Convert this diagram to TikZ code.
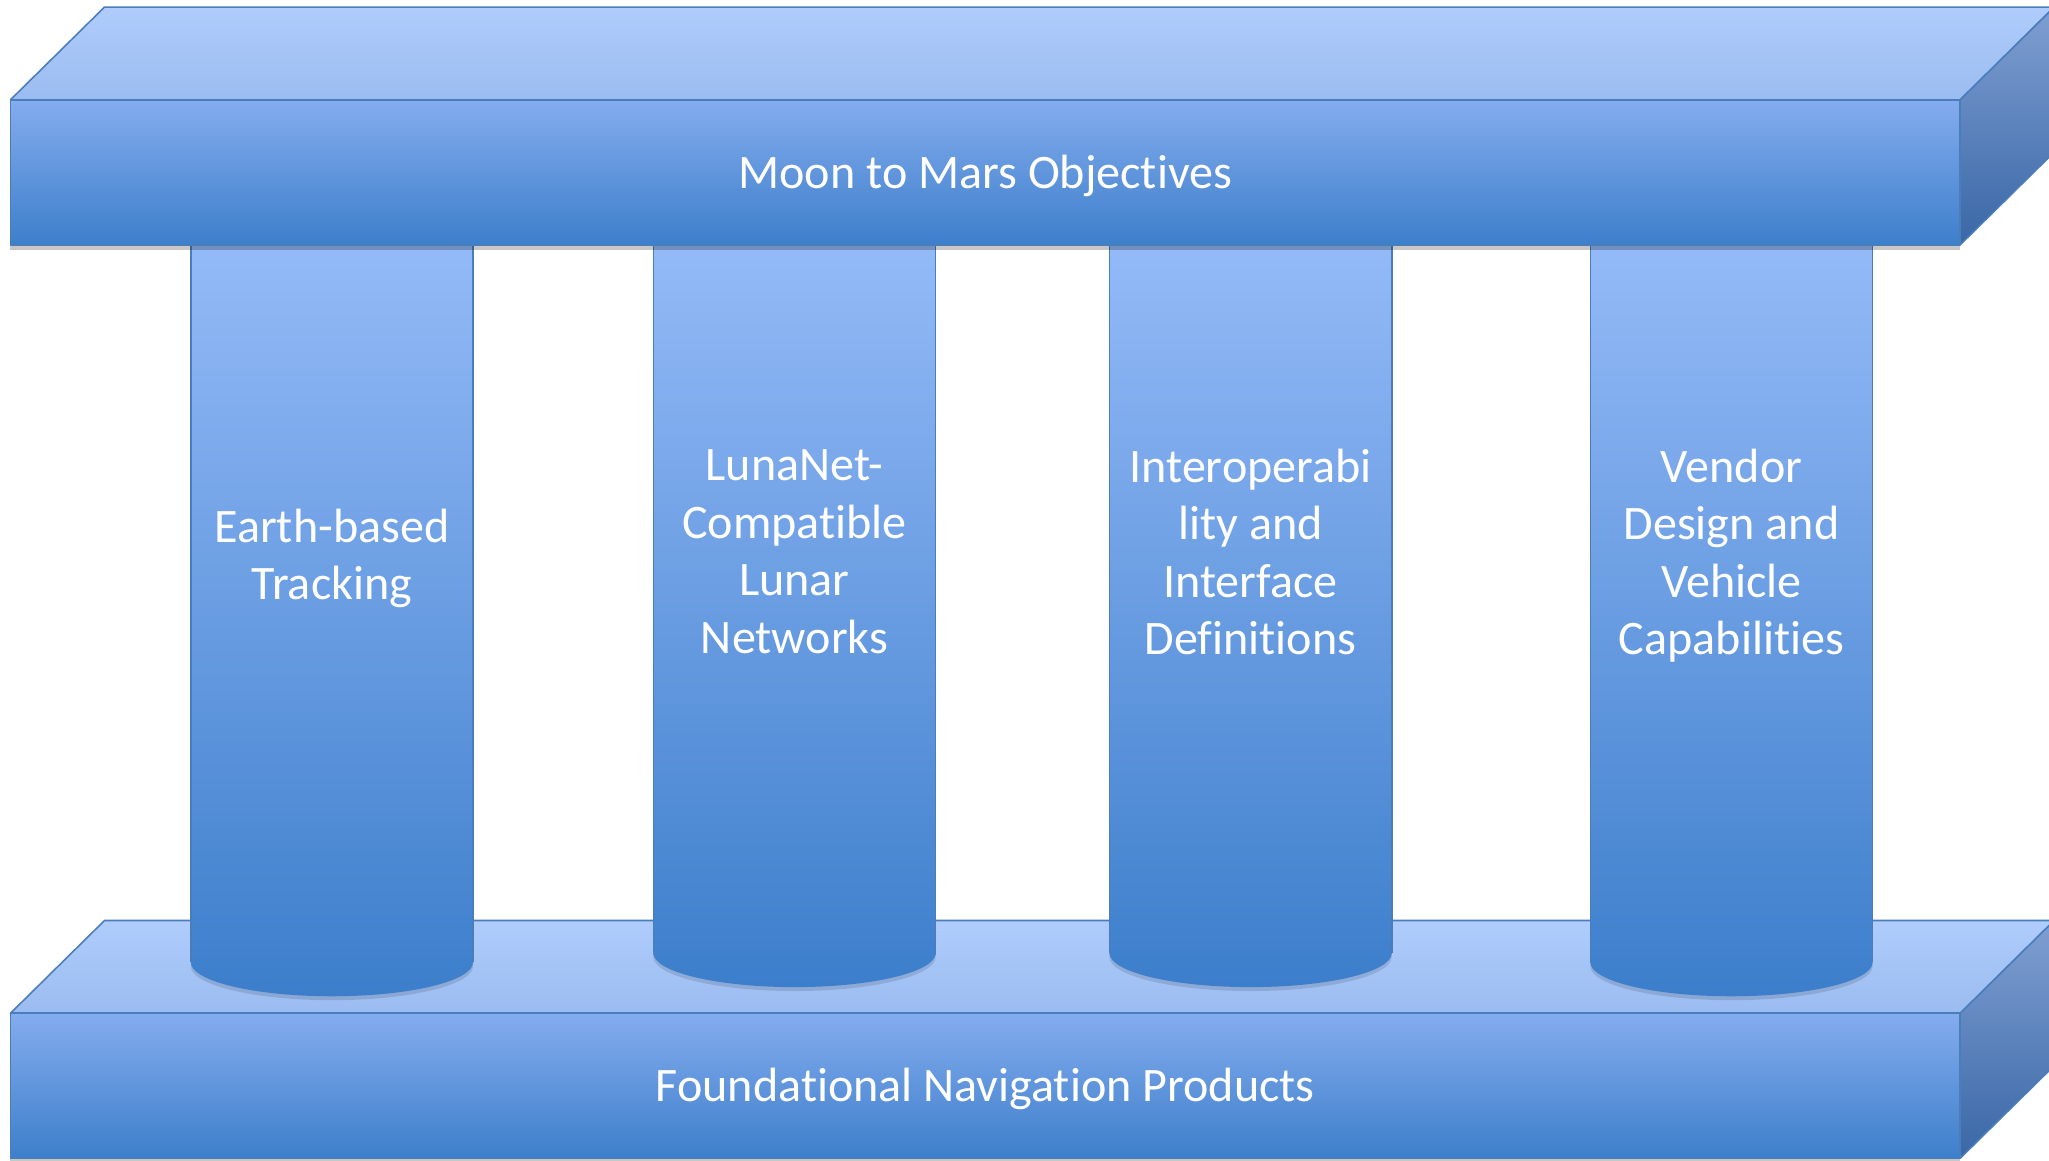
\documentclass[tikz,border=0pt]{standalone}
\usepackage{fontspec}
\setmainfont{Carlito}[Ligatures=NoCommon]
\usetikzlibrary{shadows}
\definecolor{edge}{HTML}{4A7EBB}
\definecolor{topA}{HTML}{AFCCFC}
\definecolor{topB}{HTML}{9BBCF0}
\definecolor{frontA}{HTML}{84ACEE}
\definecolor{frontB}{HTML}{3D7FCB}
\definecolor{sideA}{HTML}{809FD2}
\definecolor{sideB}{HTML}{3967A6}
\definecolor{pilA}{HTML}{97BCF9}
\definecolor{pilB}{HTML}{3C7ECB}
\tikzset{
  face/.style={draw=edge, line width=0.6pt, line join=round},
  topface/.style={face, top color=topA, bottom color=topB},
  frontface/.style={face, top color=frontA, bottom color=frontB},
  sideface/.style={face, top color=sideA, bottom color=sideB},
  pillar/.style={top color=pilA, bottom color=pilB},
  pillaredge/.style={draw=edge, line width=0.6pt},
  label/.style={text=white, font=\fontsize{18.4}{22}\selectfont, align=center, inner sep=0pt},
  softshadow/.style={drop shadow={shadow xshift=0pt, shadow yshift=-2pt, opacity=0.22, fill=black}},
  pilshadow/.style={drop shadow={shadow xshift=0pt, shadow yshift=-1.5pt, opacity=0.12, fill=black}},
}
\begin{document}
\begin{tikzpicture}[x=0.5pt,y=0.5pt]
\useasboundingbox (0,0) rectangle (1568,888.4);
\begin{scope}
\clip (0,0) rectangle (1568,888.4);
% bottom bar
\path[topface] (8,113) -- (1500,113) -- (1572,184) -- (80,184) -- cycle;
\path[sideface] (1500,113) -- (1572,184) -- (1572,73) -- (1500,2) -- cycle;
\path[frontface, softshadow] (8,2) rectangle (1500,113);
\node[label] (found) at (754,55) {Foundational Navigation Products};
% pillars
\foreach \xa/\yc in {146/152, 500/159, 849/159, 1217/152}{
  \pgfmathsetmacro{\xb}{\xa+216}
  \path[pillar, pilshadow] (\xa,720) -- (\xa,\yc) arc[start angle=180, end angle=360, x radius=108, y radius=26] -- (\xb,720) -- cycle;
  \draw[pillaredge] (\xa,720) -- (\xa,\yc);
  \draw[pillaredge] (\xb,720) -- (\xb,\yc);
}
\node[label] (p1) at (254,461) {Earth-based\\Tracking};
\node[label] (p2) at (608,466) {LunaNet-\\Compatible\\Lunar\\Networks};
\node[label] (p3) at (957,466) {Interoperabi\\lity and\\Interface\\Definitions};
\node[label] (p4) at (1325,463) {Vendor\\Design and\\Vehicle\\Capabilities};
% top bar
\path[topface] (8,812) -- (1500,812) -- (1572,883) -- (80,883) -- cycle;
\path[sideface] (1500,812) -- (1572,883) -- (1572,772) -- (1500,701) -- cycle;
\path[frontface, softshadow] (8,701) rectangle (1500,812);
\node[label] (moon) at (754,754) {Moon to Mars Objectives};
\end{scope}
\end{tikzpicture}
\end{document}
